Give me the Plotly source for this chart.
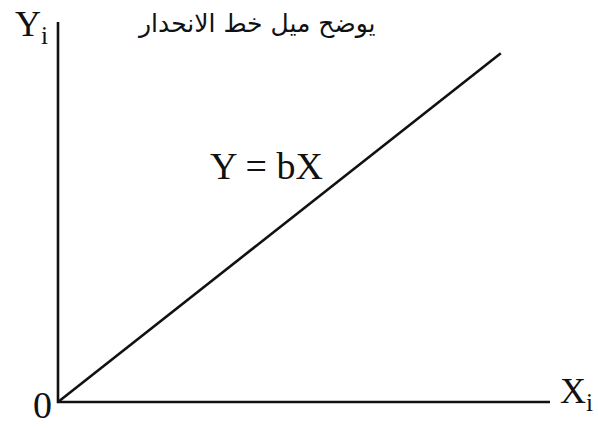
import plotly.graph_objects as go

# Regression-through-origin sketch: Y = bX
slope_b = 1.02
line_x = [0, 9]
axis_x_end = 10
axis_y_end = 10

title_text = "يوضح ميل خط الانحدار"
eq_text = "Y = bX"
origin_text = "0"
x_label = "X<sub>i</sub>"
y_label = "Y<sub>i</sub>"

line_y = [slope_b * v for v in line_x]

fig = go.Figure()

# axes drawn as plain lines
fig.add_trace(go.Scatter(x=[0, 0, axis_x_end], y=[axis_y_end, 0, 0], mode="lines",
                         line=dict(color="#111111", width=2.6), hoverinfo="skip"))
# regression line
fig.add_trace(go.Scatter(x=line_x, y=line_y, mode="lines",
                         line=dict(color="#111111", width=2.6), hoverinfo="skip"))

serif = dict(family="Liberation Serif, Times New Roman, serif", color="#111111")

fig.add_annotation(x=4.03, y=9.95, text=title_text, showarrow=False,
                   font=dict(family="DejaVu Sans, sans-serif", size=25, color="#111111"))
fig.add_annotation(x=4.23, y=6.21, text=eq_text, showarrow=False,
                   font=dict(size=38, **serif))
fig.add_annotation(x=-0.325, y=-0.08, text=origin_text, showarrow=False,
                   font=dict(size=38, **serif))
fig.add_annotation(x=10.17, y=0.22, text=x_label, showarrow=False, xanchor="left",
                   font=dict(size=36, **serif))
fig.add_annotation(x=-0.915, y=9.87, text=y_label, showarrow=False, xanchor="left",
                   font=dict(size=36, **serif))

fig.update_xaxes(visible=False, range=[-1.179, 10.976])
fig.update_yaxes(visible=False, range=[-0.684, 10.579])
fig.update_layout(width=598, height=428, margin=dict(l=0, r=0, t=0, b=0),
                  plot_bgcolor="white", paper_bgcolor="white", showlegend=False)

fig.write_html("out.html")
